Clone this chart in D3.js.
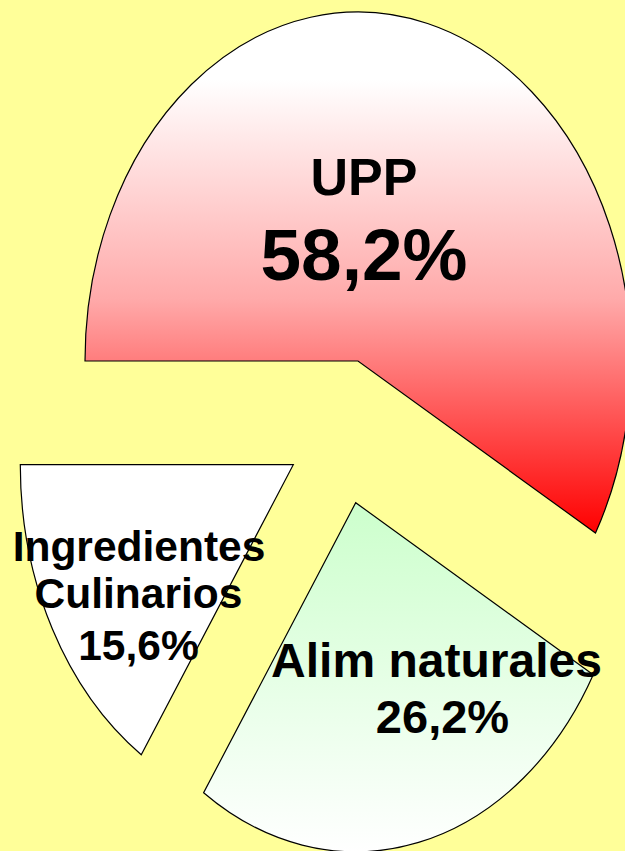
<!DOCTYPE html>
<html>
<head>
<meta charset="utf-8">
<title>UPP pie</title>
<script src="https://d3js.org/d3.v7.min.js"></script>
<style>
  body { margin: 0; background: #FFFF99; }
  svg { display: block; }
  text { font-family: "Liberation Sans", Arial, sans-serif; font-weight: bold; fill: #000; text-anchor: middle; }
</style>
</head>
<body>
<svg width="625" height="851"></svg>
<script>
// data
var categories = ["UPP", "Alim naturales", "Ingredientes Culinarios"];
var shares = [58.2, 26.2, 15.6];
var labelLines = [["UPP"], ["Alim naturales"], ["Ingredientes", "Culinarios"]];

// layout (pixels)
var center = [358, 361];
var rx = 273, ry = 349;
var explode = [[0, 0], [-2.3, 141.7], [-64.7, 103.7]];
// label line centres, baselines and font sizes
var labelPos = [
  {xs: [364, 364], ys: [195, 280], sizes: [52, 73]},
  {xs: [436.5, 442.5], ys: [677, 733], sizes: [48, 47]},
  {xs: [139, 138.5, 138.5], ys: [561, 608, 660], sizes: [42.5, 42.5, 42.5]}
];

var svg = d3.select("svg");
svg.append("rect").attr("width", 625).attr("height", 851).attr("fill", "#FFFF99");

var defs = svg.append("defs");
var g1 = defs.append("linearGradient").attr("id", "gradUPP")
    .attr("x1", 0).attr("y1", 0).attr("x2", 0).attr("y2", 1);
g1.append("stop").attr("offset", 0.13).attr("stop-color", "#FFFFFF");
g1.append("stop").attr("offset", 0.55).attr("stop-color", "#FFAAAA");
g1.append("stop").attr("offset", 1).attr("stop-color", "#FF0000");

var g2 = defs.append("linearGradient").attr("id", "gradNat")
    .attr("x1", 0).attr("y1", 0).attr("x2", 0).attr("y2", 1);
g2.append("stop").attr("offset", 0).attr("stop-color", "#CCFFCC");
g2.append("stop").attr("offset", 1).attr("stop-color", "#FFFFFF");

var fills = ["url(#gradUPP)", "url(#gradNat)", "#FFFFFF"];

var pie = d3.pie().sort(null)
    .startAngle(-Math.PI / 2).endAngle(3 * Math.PI / 2);
var arc = d3.arc().innerRadius(0).outerRadius(1);

var fmt = d3.format(".1f");
function pct(v) { return fmt(v).replace(".", ",") + "%"; }

var slices = svg.selectAll(".slice")
  .data(pie(shares))
  .enter().append("g")
    .attr("class", "slice")
    .attr("transform", function(d, i) {
      return "translate(" + (center[0] + explode[i][0]) + "," + (center[1] + explode[i][1]) + ") scale(" + rx + "," + ry + ")";
    });

slices.append("path")
    .attr("d", arc)
    .attr("fill", function(d, i) { return fills[i]; })
    .attr("stroke", "#000")
    .attr("stroke-width", 1.2)
    .attr("vector-effect", "non-scaling-stroke");

// labels
shares.forEach(function(v, i) {
  var lines = labelLines[i].concat([pct(v)]);
  var p = labelPos[i];
  var t = svg.append("text").attr("class", "label");
  lines.forEach(function(line, j) {
    t.append("tspan")
      .attr("x", p.xs[j])
      .attr("y", p.ys[j])
      .style("font-size", p.sizes[j] + "px")
      .text(line);
  });
  t.append("title").text(categories[i] + ": " + pct(v));
});
</script>
</body>
</html>
